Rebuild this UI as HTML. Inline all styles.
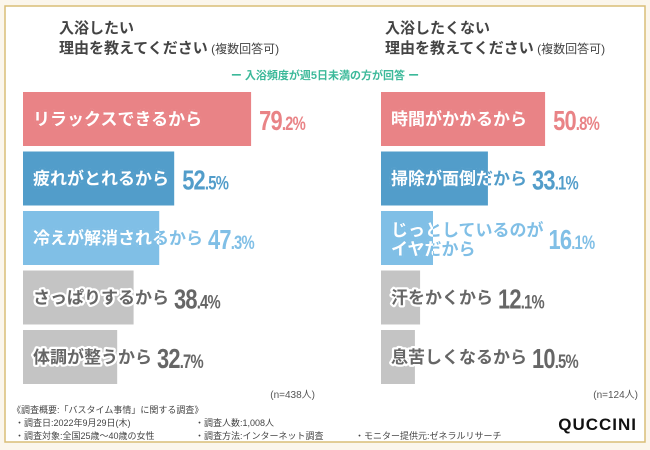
<!DOCTYPE html>
<html><head><meta charset="utf-8">
<style>
html,body{margin:0;padding:0;background:#fbf6ec;}
svg{display:block;font-family:"Liberation Sans","Noto Sans CJK JP",sans-serif;}
</style></head>
<body>
<svg id="c" width="650" height="450" viewBox="0 0 650 450">
<defs id="defs"></defs>
<rect x="5" y="6" width="640" height="436" fill="#fff" stroke="#d9bd77" stroke-width="1.5"/>
<g fill="#444" font-weight="bold">
<text x="59" y="33" font-size="15">入浴したい</text>
<text x="59" y="53" font-size="15">理由を教えてください<tspan font-size="12" font-weight="normal"> (複数回答可)</tspan></text>
</g>
<g fill="#444" font-weight="bold">
<text x="385" y="33" font-size="15">入浴したくない</text>
<text x="385" y="53" font-size="15">理由を教えてください<tspan font-size="12" font-weight="normal"> (複数回答可)</tspan></text>
</g>
<text x="325" y="79" text-anchor="middle" font-size="11" fill="#3cb99a" font-weight="bold">ー 入浴頻度が週5日未満の方が回答 ー</text>
<g id="bars"></g>
<text x="315" y="398" text-anchor="end" font-size="10" fill="#555">(n=438人)</text>
<text x="638" y="398" text-anchor="end" font-size="10" fill="#555">(n=124人)</text>
<g font-size="9" fill="#444">
<text x="12" y="413">《調査概要:「バスタイム事情」に関する調査》</text>
<text x="15" y="426">・調査日:2022年9月29日(木)</text>
<text x="15" y="439">・調査対象:全国25歳～40歳の女性</text>
<text x="195" y="426">・調査人数:1,008人</text>
<text x="195" y="439">・調査方法:インターネット調査</text>
<text x="355" y="439">・モニター提供元:ゼネラルリサーチ</text>
</g>
<text x="637" y="430" text-anchor="end" font-size="17" font-weight="bold" fill="#111" letter-spacing="1">QUCCINI</text>
</svg>
<script>
const leftLabels=[["リラックスできるから"],["疲れがとれるから"],["冷えが解消されるから"],["さっぱりするから"],["体調が整うから"]];
const leftValues=[79.2,52.5,47.3,38.4,32.7];
const rightLabels=[["時間がかかるから"],["掃除が面倒だから"],["じっとしているのが","イヤだから"],["汗をかくから"],["息苦しくなるから"]];
const rightValues=[50.8,33.1,16.1,12.1,10.5];
const barColors=["#e98386","#529dca","#80bfe6","#c4c4c4","#c4c4c4"];
const insideColors=["#fff","#fff","#fff","#666","#666"];
const valColors=["#e98386","#529dca","#80bfe6","#666","#666"];
const NS="http://www.w3.org/2000/svg";
const g=document.getElementById('bars');
const defs=document.getElementById('defs');
function mk(t,a){const e=document.createElementNS(NS,t);for(const k in a)e.setAttribute(k,a[k]);return e;}
function labelText(lines,x,y,fill,stroke,sw){
  const t=mk('text',{x:x,'font-size':17,'font-weight':'bold',fill:fill,stroke:stroke,'stroke-width':sw,'paint-order':'stroke','stroke-linejoin':'round'});
  lines.forEach((s,j)=>{const ts=mk('tspan',{x:x,y:lines.length>1?y+25+j*19:y+33});ts.textContent=s;t.appendChild(ts);});
  return t;
}
function panel(labels,values,x0,scale,side){
  const rowY=i=>92+i*59.5;
  values.forEach((v,i)=>{
    const y=rowY(i),w=v*scale;
    const r=mk('rect',{x:x0,y:y,width:w,height:54,fill:barColors[i]});
    
    
    g.appendChild(r);
    const lines=labels[i];
    const outer=labelText(lines,x0+10,y,valColors[i],'#fff',4);
    
    
    g.appendChild(outer);
    const cid='clip-'+side+'-'+i;
    const cp=mk('clipPath',{id:cid});cp.appendChild(mk('rect',{x:x0,y:y,width:w,height:54}));defs.appendChild(cp);
    const inner=labelText(lines,x0+10,y,insideColors[i],i<3?barColors[i]:'#fff',4.5);
    inner.setAttribute('clip-path','url(#'+cid+')');
    
    
    g.appendChild(inner);
    let tw=0;try{tw=Math.max(...Array.from(outer.childNodes).map(n=>n.getComputedTextLength()));}catch(e){}
    const vx=Math.max(x0+w+8,x0+10+tw+5);
    const s=v.toFixed(1).split('.');
    const vg=mk('g',{transform:'translate('+vx+','+(y+38)+') scale(0.78,1)'});
    const vt=mk('text',{x:0,y:0,fill:valColors[i],'font-size':28,'font-weight':'bold','letter-spacing':-1});
    
    
    const a=mk('tspan',{});a.textContent=s[0];
    const b=mk('tspan',{'font-size':19});b.textContent='.'+s[1]+'%';
    vt.appendChild(a);vt.appendChild(b);vg.appendChild(vt);g.appendChild(vg);
  });
}
panel(leftLabels,leftValues,23,2.88,'left');
panel(rightLabels,rightValues,381,3.23,'right');
</script>
</body></html>
